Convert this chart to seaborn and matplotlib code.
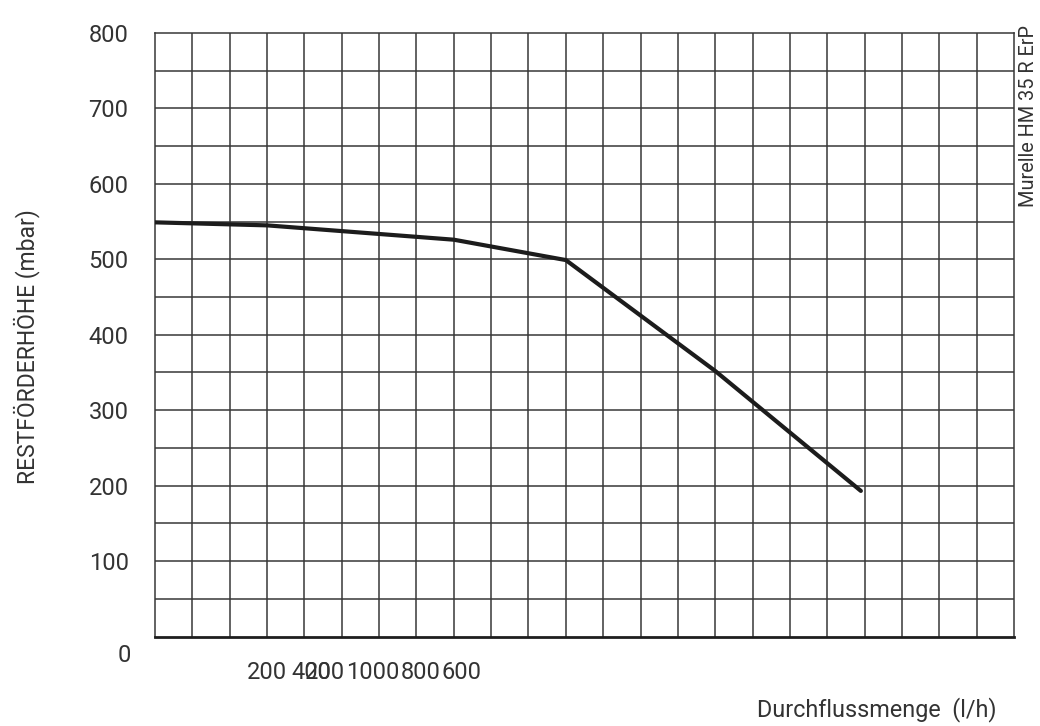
import numpy as np
import pandas as pd
import matplotlib
matplotlib.use("Agg")
import matplotlib.pyplot as plt
import matplotlib.transforms as mtransforms
import seaborn as sns

# Pumpenkennlinie (Restförderhöhe gegen Durchfluss)
flow = [50, 200, 450, 600, 800, 995]
head = [549, 545, 526, 499, 352, 193]

y_ticks = [100, 200, 300, 400, 500, 600, 700, 800]
x_ticks = [50, 200, 400, 600, 800, 1000, 1200]

# Beschriftungen der x-Achse (so wie im Original übereinander gerutscht)
x_label_texts = ["200", "400", "200", "1000", "800", "600"]
x_label_pos = [200, 232.1, 250.4, 305.4, 378.8, 433.8]
x_label_ha = ["center", "left", "left", "left", "left", "left"]

df = pd.DataFrame({"flow": flow, "head": head})

sns.set_style("white")
plt.rcParams["font.family"] = ["Roboto", "DejaVu Sans"]

fig = plt.figure(figsize=(10.4, 7.26), dpi=100)
ax = fig.add_axes([155 / 1040, 1 - 636.5 / 726, 859 / 1040, 603.5 / 726])

grid_col = "#383838"
ax.set_xlim(50, 1200)
ax.set_ylim(0, 800)

# Rasterlinien alle 50
for gx in np.arange(100, 1200, 50):
    ax.axvline(gx, color=grid_col, lw=1.1, zorder=1)
for gy in np.arange(50, 800, 50):
    ax.axhline(gy, color=grid_col, lw=1.1, zorder=1)

sns.lineplot(data=df, x="flow", y="head", ax=ax, color="#1c1c1c", lw=3.0,
             solid_capstyle="round", zorder=3)

for side in ["left", "top", "right"]:
    ax.spines[side].set_color(grid_col)
    ax.spines[side].set_linewidth(1.1)
ax.spines["bottom"].set_color("#1e1e1e")
ax.spines["bottom"].set_linewidth(2.0)

ax.set_yticks(y_ticks)
ax.set_yticklabels([str(v) for v in y_ticks])
ax.set_xticks(x_ticks)
ax.set_xticklabels([])
ax.tick_params(axis="y", direction="out", length=7, width=1.1, color=grid_col,
               pad=12, labelsize=17, labelcolor="#333333")
ax.tick_params(axis="x", direction="out", length=7, width=1.3, color=grid_col)

# "0" sitzt unterhalb der Achse
ax.annotate("0", xy=(0, 0), xycoords="axes fraction", xytext=(-31, -19),
            textcoords="offset pixels", ha="center", va="center",
            fontsize=17, color="#333333")

trans = mtransforms.blended_transform_factory(ax.transData, ax.transAxes)
for txt, xp, ha in zip(x_label_texts, x_label_pos, x_label_ha):
    ax.text(xp, -0.06, txt, transform=trans, ha=ha, va="center",
            fontsize=17, color="#333333")

ax.set_ylabel("RESTFÖRDERHÖHE (mbar)", fontsize=16.5, color="#333333")
ax.yaxis.set_label_coords(-0.134, 0.48)
ax.set_xlabel("Durchflussmenge  (l/h)", fontsize=16.8, color="#333333")
ax.xaxis.label.set_ha("right")
ax.xaxis.set_label_coords(0.98, -0.1)

fig.text(1029 / 1040, 1 - 116 / 726, "Murelle HM 35 R ErP", rotation=90,
         ha="center", va="center", fontsize=14.3, color="#333333")

plt.savefig("out.png", dpi=100)
